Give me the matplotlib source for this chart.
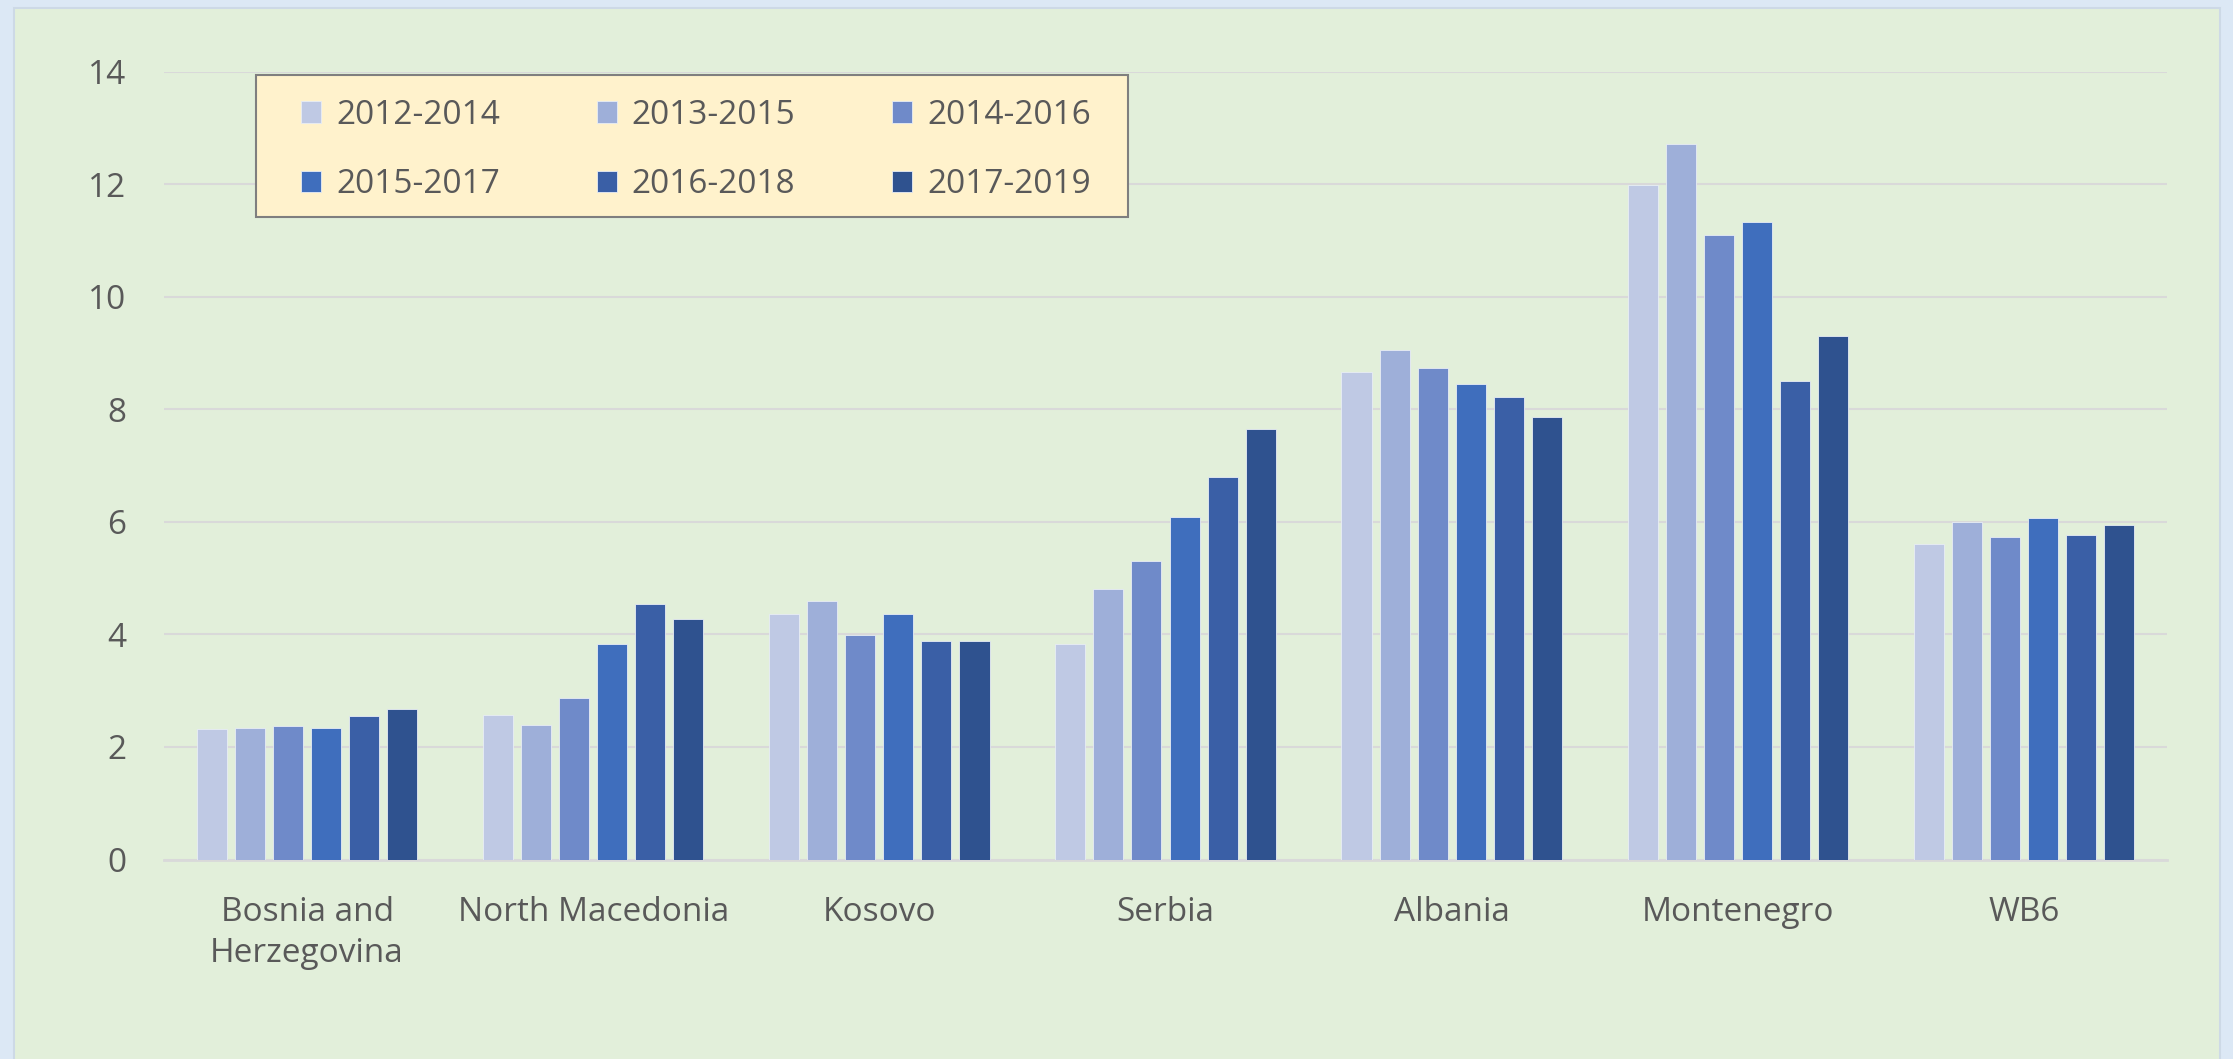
import matplotlib.pyplot as plt
import matplotlib.patches as mpatches
import numpy as np

countries = ["Bosnia and\nHerzegovina", "North Macedonia", "Kosovo", "Serbia",
             "Albania", "Montenegro", "WB6"]
periods = ["2012-2014", "2013-2015", "2014-2016", "2015-2017", "2016-2018", "2017-2019"]

v_2012_2014 = [2.31, 2.57, 4.36, 3.82, 8.66, 11.98, 5.61]
v_2013_2015 = [2.34, 2.39, 4.59, 4.80, 9.06, 12.71, 5.99]
v_2014_2016 = [2.38, 2.87, 3.98, 5.31, 8.73, 11.09, 5.73]
v_2015_2017 = [2.34, 3.82, 4.36, 6.09, 8.45, 11.33, 6.07]
v_2016_2018 = [2.55, 4.54, 3.89, 6.80, 8.21, 8.51, 5.76]
v_2017_2019 = [2.67, 4.28, 3.88, 7.64, 7.87, 9.30, 5.94]
series = [v_2012_2014, v_2013_2015, v_2014_2016, v_2015_2017, v_2016_2018, v_2017_2019]

colors = ["#bfc9e4", "#9eafd9", "#6f8ac9", "#3f6ebd", "#3a5fa6", "#2f528f"]
text_color = "#595959"

plt.rcParams['font.family'] = ['Open Sans', 'DejaVu Sans']

fig = plt.figure(figsize=(22.33, 10.59), dpi=100)
fig.patch.set_facecolor("#dce8f5")

# green chart panel with thin border
panel = mpatches.Rectangle((14 / 2233, -0.01), (2220 - 14) / 2233, 1 - 8 / 1059 + 0.01,
                           transform=fig.transFigure, facecolor="#e2efda",
                           edgecolor="#cdd9e6", linewidth=1.5, zorder=-1)
fig.patches.append(panel)

ax = fig.add_axes([164 / 2233, 1 - 859.5 / 1059, (2167 - 164) / 2233, (859.5 - 71.5) / 1059])
ax.set_facecolor("none")

x = np.arange(len(countries))
pitch = 0.133
width = 0.105
bars = []
for i, (vals, c) in enumerate(zip(series, colors)):
    b = ax.bar(x + (i - 2.5) * pitch, vals, width, color=c, edgecolor="#e8edf5",
               linewidth=0.6, zorder=3, label=periods[i])
    bars.append(b)

ax.set_xlim(-0.5, 6.5)
ax.set_ylim(0, 14)
ax.set_yticks(range(0, 15, 2))
ax.set_xticks(x)
ax.set_xticklabels(countries, linespacing=1.35)
ax.tick_params(axis='both', length=0, labelsize=24, colors=text_color)
ax.tick_params(axis='y', pad=27)
ax.tick_params(axis='x', pad=26)
ax.grid(axis='y', color="#d9d9d9", linewidth=1.5, zorder=0)
for s in ["top", "right", "left"]:
    ax.spines[s].set_visible(False)
ax.spines["bottom"].set_color("#d9d9d9")
ax.spines["bottom"].set_linewidth(2)

# legend box (drawn separately so its size matches the reference)
box = mpatches.Rectangle(((256 - 164) / 2003, (859.5 - 217) / 788), 872 / 2003, 142 / 788,
                         transform=ax.transAxes, facecolor="#fff2cc", edgecolor="#7f7f7f",
                         linewidth=1.5, zorder=5)
ax.add_patch(box)

order = [0, 3, 1, 4, 2, 5]
leg = ax.legend([bars[i] for i in order], [periods[i] for i in order], ncol=3,
                loc="center", bbox_to_anchor=((696 - 164) / 2003, (859.5 - 150) / 788),
                frameon=False, fontsize=24, labelcolor=text_color,
                handlelength=0.6, handleheight=0.6, handletextpad=0.45,
                columnspacing=2.9, labelspacing=1.1, borderpad=0, borderaxespad=0)
leg.set_zorder(6)

fig.savefig("out.png", dpi=100, facecolor=fig.get_facecolor())
